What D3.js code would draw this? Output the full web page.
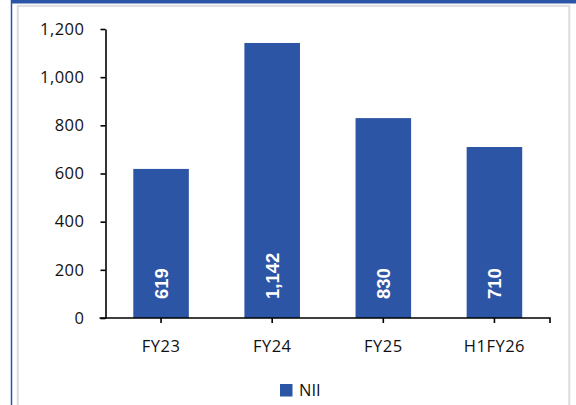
<!DOCTYPE html>
<html>
<head>
<meta charset="utf-8">
<script src="https://cdn.jsdelivr.net/npm/d3@7"></script>
<style>
  body { margin: 0; background: #fff; }
  svg { display: block; font-family: "Open Sans", sans-serif; }
  .axis path, .axis line { stroke: #000; stroke-width: 1.6; }
  .axis text { font-size: 16.5px; fill: #111; font-family: "Open Sans", sans-serif; letter-spacing: 0.5px; }
</style>
</head>
<body>
<svg width="576" height="405"></svg>
<script>
// data
var categories = ["FY23", "FY24", "FY25", "H1FY26"];
var nii = [619, 1142, 830, 710];
var yTicks = [0, 200, 400, 600, 800, 1000, 1200];
var seriesName = "NII";

var barColor = "#2D55A5";

var svg = d3.select("svg"),
    margin = {top: 29, right: 26, bottom: 87, left: 105.5},
    width = 576 - margin.left - margin.right,
    height = 405 - margin.top - margin.bottom;

// frame: blue outline + gray inner border
svg.append("rect")
    .attr("x", 11.5).attr("y", -2)
    .attr("width", 580).attr("height", 420)
    .attr("fill", "none").attr("stroke", "#2D55A5").attr("stroke-width", 1.5);
svg.append("rect")
    .attr("x", 11).attr("y", 0)
    .attr("width", 570).attr("height", 3.5)
    .attr("fill", "#2D55A5");
svg.append("rect")
    .attr("x", 17.8).attr("y", 5.8)
    .attr("width", 551.5).attr("height", 420)
    .attr("fill", "none").attr("stroke", "#dcdcdc").attr("stroke-width", 2);

var g = svg.append("g").attr("transform", "translate(" + margin.left + "," + margin.top + ")");

var x = d3.scaleBand()
    .domain(categories)
    .range([0, width])
    .paddingInner(0.5)
    .paddingOuter(0.25);

var y = d3.scaleLinear()
    .domain([0, 1200])
    .range([height, 0]);

// bars
g.selectAll("rect.bar")
    .data(nii)
    .enter().append("rect")
    .attr("class", "bar")
    .attr("x", function(d, i) { return x(categories[i]); })
    .attr("y", function(d) { return y(d); })
    .attr("width", x.bandwidth())
    .attr("height", function(d) { return y(0) - y(d); })
    .attr("fill", barColor);

// y-as
g.append("g")
    .attr("class", "axis")
    .call(d3.axisLeft(y).tickValues(yTicks).tickSize(5).tickPadding(16).tickSizeOuter(0)
        .tickFormat(d3.format(",")));

// x-as
var xAxis = g.append("g")
    .attr("class", "axis")
    .attr("transform", "translate(0," + height + ")")
    .call(d3.axisBottom(x).tickSize(5).tickPadding(17).tickSizeOuter(0));
xAxis.select(".domain").attr("d", "M-6,0H" + width + "V5");

// labels in de bars
g.selectAll("text.val")
    .data(nii)
    .enter().append("text")
    .attr("class", "val")
    .attr("transform", function(d, i) {
        return "translate(" + (x(categories[i]) + x.bandwidth() / 2) + "," + (y(0) - 19) + ") rotate(-90)";
    })
    .attr("dy", "0.36em")
    .attr("text-anchor", "start")
    .attr("fill", "#fff")
    .attr("font-family", "Liberation Sans, Arial, sans-serif")
    .attr("font-weight", "bold")
    .attr("font-size", 18.5)
    .text(function(d) { return d3.format(",")(d); });

// legenda
var legend = svg.append("g").attr("transform", "translate(280,384)");
legend.append("rect")
    .attr("width", 12.5).attr("height", 12.5)
    .attr("fill", barColor);
legend.append("text")
    .attr("x", 19).attr("y", 6.5)
    .attr("dy", "0.36em")
    .attr("font-size", 16.5)
    .attr("fill", "#111")
    .text(seriesName);
</script>
</body>
</html>
